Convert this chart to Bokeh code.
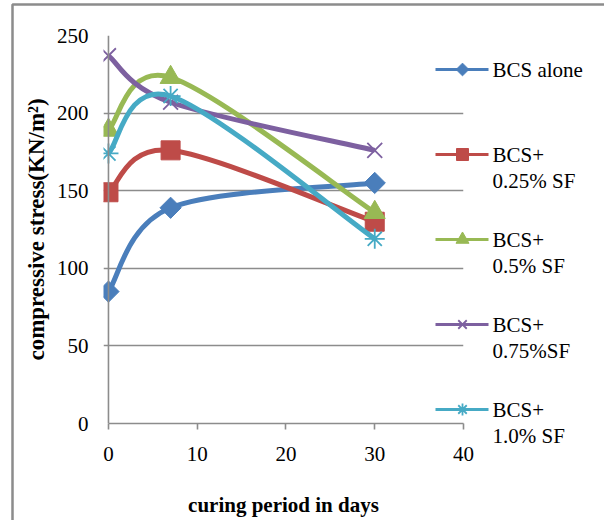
import math
from bokeh.plotting import figure
from bokeh.models import (Range1d, FixedTicker, Span, ColumnDataSource)
from bokeh.core.properties import value
from bokeh.embed import file_html
from bokeh.resources import INLINE

# ---- data ----
days = [0, 7, 30]
bcs_alone = [85, 139, 155]
bcs_025 = [149, 176, 130]
bcs_05 = [189, 223, 136]
bcs_075 = [237, 207, 176]
bcs_10 = [174, 211, 119]
series_names = ["BCS alone", "BCS+\n0.25% SF", "BCS+\n0.5% SF", "BCS+\n0.75%SF", "BCS+\n1.0% SF"]
x_ticks = [0, 10, 20, 30, 40]
y_ticks = [0, 50, 100, 150, 200, 250]

series = [bcs_alone, bcs_025, bcs_05, bcs_075, bcs_10]
colors = ["#4A7EBB", "#BE4B48", "#98B954", "#7D60A0", "#46AAC5"]
markers = ["square", "square", "triangle", "x", "asterisk"]
angles = [math.pi / 4, 0, 0, 0, 0]
sizes = [15, 19, 21, 21, 20]
leg_sizes = [9, 12, 13, 12, 12]
mlw = [1, 1, 1, 1.8, 1.8]

FONT = "Liberation Serif"
GRID = "#8c8c8c"

p = figure(width=604, height=520, output_backend="svg", toolbar_location=None,
           x_range=Range1d(-0.56, 40), y_range=Range1d(0, 250),
           min_border_left=103, min_border_right=141,
           min_border_top=35, min_border_bottom=97)
p.outline_line_color = None
p.background_fill_color = "white"
p.border_fill_color = "white"
# pixel-based helper ranges (frame spans 103..463 x, 423..35 y)
p.extra_x_ranges = {"px": Range1d(103, 463)}
p.extra_y_ranges = {"px": Range1d(423, 35)}

# grid
p.xgrid.visible = False
p.ygrid.ticker = FixedTicker(ticks=y_ticks)
p.ygrid.grid_line_color = GRID
p.ygrid.grid_line_width = 1.6

# x axis
xa = p.xaxis[0]
xa.ticker = FixedTicker(ticks=x_ticks)
xa.bounds = (0, 40)
xa.axis_line_color = GRID
xa.axis_line_width = 1.6
xa.major_tick_line_color = GRID
xa.major_tick_line_width = 1.6
xa.major_tick_in = 0
xa.major_tick_out = 6
xa.minor_tick_line_color = None
xa.major_label_standoff = 17
xa.major_label_text_font = FONT
xa.major_label_text_font_size = "21px"
xa.major_label_text_color = "black"
xa.axis_label = "curing period in days"
xa.axis_label_text_font = FONT
xa.axis_label_text_font_style = "bold"
xa.axis_label_text_font_size = "21px"
xa.axis_label_text_color = "black"
xa.axis_label_standoff = 29

# y axis
ya = p.yaxis[0]
ya.ticker = FixedTicker(ticks=y_ticks)
ya.axis_line_color = None
ya.major_tick_line_color = None
ya.major_tick_in = 0
ya.major_tick_out = 0
ya.minor_tick_line_color = None
ya.major_label_standoff = 15
ya.major_label_text_font = FONT
ya.major_label_text_font_size = "21px"
ya.major_label_text_color = "black"
ya.axis_label = "compressive stress(KN/m²)"
ya.axis_label_text_font = FONT
ya.axis_label_text_font_style = "bold"
ya.axis_label_text_font_size = "23px"
ya.axis_label_text_color = "black"
ya.axis_label_standoff = 5

p.add_layout(Span(location=0, dimension="height", line_color=GRID, line_width=1.6))


def smooth_segments(xs, ys):
    n = len(xs)
    d = dict(x0=[], y0=[], x1=[], y1=[], cx0=[], cy0=[], cx1=[], cy1=[])
    for i in range(n - 1):
        i0 = max(i - 1, 0)
        i3 = min(i + 2, n - 1)
        d["x0"].append(xs[i]); d["y0"].append(ys[i])
        d["x1"].append(xs[i + 1]); d["y1"].append(ys[i + 1])
        d["cx0"].append(xs[i] + (xs[i + 1] - xs[i0]) / 6)
        d["cy0"].append(ys[i] + (ys[i + 1] - ys[i0]) / 6)
        d["cx1"].append(xs[i + 1] - (xs[i3] - xs[i]) / 6)
        d["cy1"].append(ys[i + 1] - (ys[i3] - ys[i]) / 6)
    return ColumnDataSource(d)


for k, vals in enumerate(series):
    src = smooth_segments(days, vals)
    p.bezier(x0="x0", y0="y0", x1="x1", y1="y1", cx0="cx0", cy0="cy0",
             cx1="cx1", cy1="cy1", source=src, line_color=colors[k], line_width=5)
    p.scatter(days, vals, marker=markers[k], size=sizes[k], angle=angles[k],
              fill_color=colors[k], line_color=colors[k], line_width=mlw[k])

# ---- legend (drawn in pixel space, above the frame clip) ----
OV = dict(x_range_name="px", y_range_name="px", level="overlay")
for k, name in enumerate(series_names):
    yk = 69 + 85 * k
    p.segment(x0=[435], y0=[yk], x1=[488], y1=[yk], line_color=colors[k], line_width=3, **OV)
    p.scatter(x=[462], y=[yk], marker=markers[k], size=leg_sizes[k], angle=angles[k],
              fill_color=colors[k], line_color=colors[k], line_width=mlw[k], **OV)
    for j, part in enumerate(name.split("\n")):
        p.text(x=[492], y=[yk + 26 * j], text=[part], text_font=value(FONT),
               text_font_size="21px", text_color="black", text_baseline="middle",
               text_align="left", **OV)

# outer chart border (top and left edges)
p.line(x=[12, 12, 700], y=[900, 4, 4], line_color="#8c8c8c", line_width=2.5, **OV)

open("out.html", "w").write(file_html(p, INLINE))
